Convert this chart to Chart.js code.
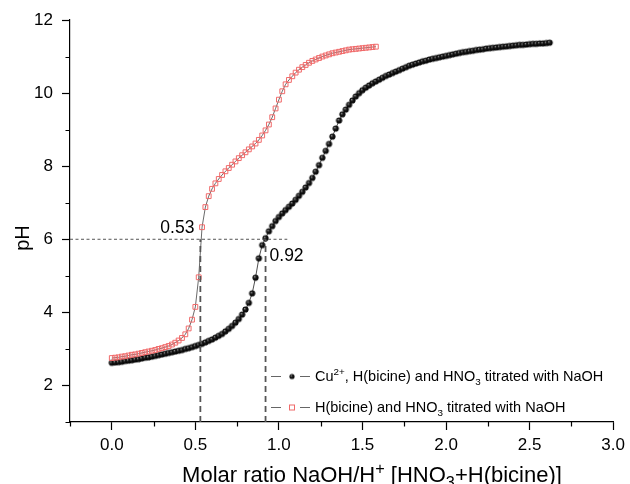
<!DOCTYPE html>
<html>
<head>
<meta charset="utf-8">
<title>Titration curves</title>
<script src="https://cdn.jsdelivr.net/npm/chart.js@4/dist/chart.umd.min.js"></script>
<style>
    body { margin: 0; background: #fff; }
    #wrap { width: 630px; height: 484px; }
</style>
</head>
<body>
<div id="wrap"><canvas id="chart" width="630" height="484"></canvas></div>
<script>
// H(bicine) + HNO3 titrated with NaOH (red squares)
const ratioBicine = [
    0.00, 0.02, 0.04, 0.06, 0.08, 0.10, 0.12, 0.14, 0.16, 0.18,
    0.20, 0.22, 0.24, 0.26, 0.28, 0.30, 0.32, 0.34, 0.36, 0.38,
    0.40, 0.42, 0.44, 0.46, 0.48, 0.50, 0.52, 0.54, 0.56, 0.58,
    0.60, 0.62, 0.64, 0.66, 0.68, 0.70, 0.72, 0.74, 0.76, 0.78,
    0.80, 0.82, 0.84, 0.86, 0.88, 0.90, 0.92, 0.94, 0.96, 0.98,
    1.00, 1.02, 1.04, 1.06, 1.08, 1.10, 1.12, 1.14, 1.16, 1.18,
    1.20, 1.22, 1.24, 1.26, 1.28, 1.30, 1.32, 1.34, 1.36, 1.38,
    1.40, 1.42, 1.44, 1.46, 1.48, 1.50, 1.52, 1.54, 1.56, 1.58
];
const phBicine = [
    2.75, 2.76, 2.77, 2.79, 2.80, 2.82, 2.84, 2.85, 2.87, 2.89,
    2.91, 2.93, 2.95, 2.97, 3.00, 3.02, 3.05, 3.08, 3.12, 3.17,
    3.23, 3.30, 3.40, 3.56, 3.80, 4.15, 4.96, 6.33, 6.88, 7.18,
    7.38, 7.53, 7.65, 7.76, 7.86, 7.95, 8.04, 8.13, 8.22, 8.30,
    8.38, 8.46, 8.54, 8.62, 8.72, 8.84, 8.98, 9.14, 9.34, 9.58,
    9.82, 10.05, 10.24, 10.36, 10.46, 10.56, 10.64, 10.71, 10.77, 10.83,
    10.88, 10.92, 10.96, 11.00, 11.03, 11.06, 11.09, 11.11, 11.13, 11.15,
    11.17, 11.19, 11.20, 11.21, 11.22, 11.23, 11.24, 11.25, 11.26, 11.27
];

// Cu2+ + H(bicine) + HNO3 titrated with NaOH (black spheres)
const ratioCopper = [
    0.00, 0.02, 0.04, 0.06, 0.08, 0.10, 0.12, 0.14, 0.16, 0.18,
    0.20, 0.22, 0.24, 0.26, 0.28, 0.30, 0.32, 0.34, 0.36, 0.38,
    0.40, 0.42, 0.44, 0.46, 0.48, 0.50, 0.52, 0.54, 0.56, 0.58,
    0.60, 0.62, 0.64, 0.66, 0.68, 0.70, 0.72, 0.74, 0.76, 0.78,
    0.80, 0.82, 0.84, 0.86, 0.88, 0.90, 0.92, 0.94, 0.96, 0.98,
    1.00, 1.02, 1.04, 1.06, 1.08, 1.10, 1.12, 1.14, 1.16, 1.18,
    1.20, 1.22, 1.24, 1.26, 1.28, 1.30, 1.32, 1.34, 1.36, 1.38,
    1.40, 1.42, 1.44, 1.46, 1.48, 1.50, 1.52, 1.54, 1.56, 1.58,
    1.60, 1.62, 1.64, 1.66, 1.68, 1.70, 1.72, 1.74, 1.76, 1.78,
    1.80, 1.82, 1.84, 1.86, 1.88, 1.90, 1.92, 1.94, 1.96, 1.98,
    2.00, 2.02, 2.04, 2.06, 2.08, 2.10, 2.12, 2.14, 2.16, 2.18,
    2.20, 2.22, 2.24, 2.26, 2.28, 2.30, 2.32, 2.34, 2.36, 2.38,
    2.40, 2.42, 2.44, 2.46, 2.48, 2.50, 2.52, 2.54, 2.56, 2.58,
    2.60, 2.62
];
const phCopper = [
    2.62, 2.63, 2.64, 2.65, 2.67, 2.68, 2.69, 2.71, 2.72, 2.74,
    2.76, 2.77, 2.79, 2.81, 2.83, 2.85, 2.87, 2.89, 2.91, 2.93,
    2.95, 2.97, 3.00, 3.02, 3.05, 3.08, 3.11, 3.14, 3.18, 3.22,
    3.26, 3.31, 3.36, 3.41, 3.48, 3.55, 3.63, 3.72, 3.82, 3.94,
    4.08, 4.26, 4.52, 4.95, 5.48, 5.84, 6.03, 6.22, 6.36, 6.50,
    6.61, 6.71, 6.80, 6.89, 6.98, 7.08, 7.19, 7.30, 7.42, 7.54,
    7.68, 7.85, 8.03, 8.23, 8.42, 8.61, 8.81, 9.03, 9.25, 9.42,
    9.55, 9.68, 9.80, 9.91, 10.00, 10.08, 10.15, 10.21, 10.27, 10.32,
    10.37, 10.42, 10.47, 10.51, 10.55, 10.59, 10.63, 10.67, 10.71, 10.75,
    10.78, 10.81, 10.84, 10.87, 10.89, 10.92, 10.94, 10.96, 10.98, 11.00,
    11.02, 11.04, 11.06, 11.08, 11.10, 11.12, 11.13, 11.15, 11.16, 11.18,
    11.19, 11.20, 11.22, 11.23, 11.24, 11.25, 11.26, 11.27, 11.28, 11.29,
    11.30, 11.31, 11.32, 11.32, 11.33, 11.34, 11.35, 11.35, 11.36, 11.36,
    11.37, 11.38
];

// 當量點 (pH 6 時的莫耳比)
const equivRatios = [0.53, 0.92];
const equivPh = 6;
const guideEnd = 1.05;

// 軸範圍與刻度
const xMin = -0.25, xMax = 3.0, xStep = 0.25, xMajor = 0.5;
const yMin = 1, yMax = 12, yStep = 1, yMajor = 2;

const FONT = '"Liberation Sans", Arial, Helvetica, sans-serif';

// 黑色立體球點
function makeSphere(r) {
    const c = document.createElement('canvas');
    const s = Math.ceil(r * 2 + 2);
    c.width = s; c.height = s;
    const g = c.getContext('2d');
    const grad = g.createRadialGradient(s / 2 - r * 0.35, s / 2 - r * 0.35, 0.2, s / 2, s / 2, r);
    grad.addColorStop(0, '#8a8a8a');
    grad.addColorStop(0.4, '#1a1a1a');
    grad.addColorStop(1, '#000');
    g.fillStyle = grad;
    g.beginPath();
    g.arc(s / 2, s / 2, r, 0, Math.PI * 2);
    g.fill();
    return c;
}
const sphere = makeSphere(3.1);
const sphereSmall = makeSphere(2.6);

const toPoints = (xs, ys) => xs.map((x, i) => ({ x: x, y: ys[i] }));

const guideSets = equivRatios.map(r => ({
    data: [{ x: r, y: yMin }, { x: r, y: equivPh }],
    showLine: true, pointRadius: 0, borderColor: '#555', borderWidth: 1.8,
    borderDash: [6, 4], order: 0
}));
guideSets.push({
    data: [{ x: xMin, y: equivPh }, { x: guideEnd, y: equivPh }],
    showLine: true, pointRadius: 0, borderColor: '#555', borderWidth: 1,
    borderDash: [3, 2.5], order: 0
});

// 畫含上下標的文字
function drawRich(ctx, parts, x, y, size, k) {
    let cx = x;
    parts.forEach(([t, mode]) => {
        const fs = mode ? size * k : size;
        ctx.font = `${fs}px ${FONT}`;
        let dy = 0;
        if (mode === 'sup') dy = -size * 0.38;
        if (mode === 'sub') dy = size * 0.28;
        ctx.fillText(t, cx, y + dy);
        cx += ctx.measureText(t).width;
    });
    return cx - x;
}
function richWidth(ctx, parts, size, k) {
    let w = 0;
    parts.forEach(([t, mode]) => {
        ctx.font = `${mode ? size * k : size}px ${FONT}`;
        w += ctx.measureText(t).width;
    });
    return w;
}

const xTitle = [['Molar ratio NaOH/H'], ['+', 'sup'], [' [HNO'], ['3', 'sub'], ['+H(bicine)]']];
const legendRows = [
    { parts: [['Cu'], ['2+', 'sup'], [', H(bicine) and HNO'], ['3', 'sub'], [' titrated with NaOH']], kind: 'sphere' },
    { parts: [['H(bicine) and HNO'], ['3', 'sub'], [' titrated with NaOH']], kind: 'square' }
];

const decorPlugin = {
    id: 'decor',
    afterDraw(chart) {
        const ctx = chart.ctx;
        const xs = chart.scales.x, ys = chart.scales.y;
        ctx.save();
        ctx.fillStyle = '#000';
        ctx.strokeStyle = '#000';
        ctx.textBaseline = 'alphabetic';

        // 次刻度
        ctx.lineWidth = 1.2;
        ctx.beginPath();
        for (let v = xMin; v <= xMax + 1e-9; v += xStep) {
            if (Math.abs(v / xMajor - Math.round(v / xMajor)) < 1e-6) continue;
            const px = Math.round(xs.getPixelForValue(v)) + 0.5;
            ctx.moveTo(px, xs.top); ctx.lineTo(px, xs.top + 4.5);
        }
        for (let v = yMin; v <= yMax + 1e-9; v += yStep) {
            if (v % yMajor === 0) continue;
            const py = Math.round(ys.getPixelForValue(v)) + 0.5;
            ctx.moveTo(ys.right, py); ctx.lineTo(ys.right - 4.5, py);
        }
        ctx.stroke();

        // 軸標題
        const tw = richWidth(ctx, xTitle, 22, 0.74);
        drawRich(ctx, xTitle, 372 - tw / 2, 482, 22, 0.74);
        ctx.save();
        ctx.translate(29, 238);
        ctx.rotate(-Math.PI / 2);
        ctx.font = `20px ${FONT}`;
        ctx.textAlign = 'center';
        ctx.fillText('pH', 0, 0);
        ctx.restore();

        // 當量點標示
        ctx.font = `17.5px ${FONT}`;
        ctx.textAlign = 'right';
        ctx.fillText(equivRatios[0].toFixed(2), xs.getPixelForValue(equivRatios[0]) - 6, ys.getPixelForValue(equivPh) - 6);
        ctx.textAlign = 'left';
        ctx.fillText(equivRatios[1].toFixed(2), xs.getPixelForValue(equivRatios[1]) + 4, ys.getPixelForValue(equivPh) + 22);

        // 圖例
        legendRows.forEach((row, i) => {
            const y = 376 + i * 31;
            ctx.strokeStyle = '#666';
            ctx.lineWidth = 1;
            ctx.beginPath();
            ctx.moveTo(271, y + 0.5); ctx.lineTo(281, y + 0.5);
            ctx.moveTo(300, y + 0.5); ctx.lineTo(310, y + 0.5);
            ctx.stroke();
            if (row.kind === 'sphere') {
                ctx.drawImage(sphereSmall, 292 - sphereSmall.width / 2, y - sphereSmall.height / 2 + 0.5);
            } else {
                ctx.strokeStyle = '#f06a6a';
                ctx.strokeRect(289.5, y - 2, 5, 5);
            }
            ctx.fillStyle = '#000';
            drawRich(ctx, row.parts, 315, y + 5, 14.5, 0.68);
        });
        ctx.restore();
    }
};

new Chart(document.getElementById('chart'), {
    type: 'scatter',
    data: {
        datasets: [
            ...guideSets,
            {
                label: 'H(bicine) and HNO3 titrated with NaOH',
                data: toPoints(ratioBicine, phBicine),
                showLine: true,
                borderColor: '#444',
                borderWidth: 0.8,
                pointStyle: 'rect',
                pointRadius: 3.4,
                pointBorderWidth: 1,
                pointBorderColor: '#f06a6a',
                pointBackgroundColor: 'rgba(255,255,255,0)',
                order: 1
            },
            {
                label: 'Cu2+, H(bicine) and HNO3 titrated with NaOH',
                data: toPoints(ratioCopper, phCopper),
                showLine: true,
                borderColor: '#222',
                borderWidth: 0.8,
                pointStyle: sphere,
                pointRadius: 3.1,
                order: 2
            }
        ]
    },
    options: {
        responsive: false,
        animation: false,
        events: [],
        layout: { padding: { left: 0, top: 20, right: 16, bottom: 0 } },
        plugins: { legend: { display: false }, tooltip: { enabled: false } },
        scales: {
            x: {
                type: 'linear', min: xMin, max: xMax,
                border: { color: '#000', width: 1.2 },
                grid: { drawOnChartArea: false, tickLength: 8, tickWidth: 1.2,
                    tickColor: c => Math.abs(c.tick.value / xMajor - Math.round(c.tick.value / xMajor)) < 1e-6 ? '#000' : 'rgba(0,0,0,0)' },
                ticks: {
                    stepSize: xStep, color: '#000', padding: 5, maxRotation: 0, autoSkip: false,
                    font: { size: 17, family: FONT },
                    callback: v => Math.abs(v / xMajor - Math.round(v / xMajor)) < 1e-6 ? v.toFixed(1) : ''
                },
                afterFit: s => { s.height = 62; }
            },
            y: {
                type: 'linear', min: yMin, max: yMax,
                border: { color: '#000', width: 1.2 },
                grid: { drawOnChartArea: false, tickLength: 8, tickWidth: 1.2,
                    tickColor: c => c.tick.value % yMajor === 0 ? '#000' : 'rgba(0,0,0,0)' },
                ticks: {
                    stepSize: yStep, color: '#000', padding: 9, autoSkip: false,
                    font: { size: 17, family: FONT },
                    callback: v => v % yMajor === 0 ? String(v) : ''
                },
                afterFit: s => { s.width = 70; }
            }
        }
    },
    plugins: [decorPlugin]
});
</script>
</body>
</html>
